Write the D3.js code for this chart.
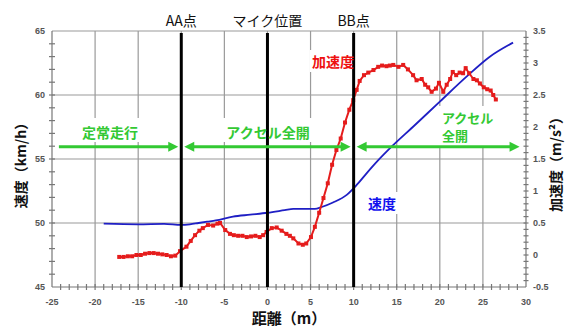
<!DOCTYPE html>
<html>
<head>
<meta charset="utf-8">
<script src="https://cdn.jsdelivr.net/npm/d3@7"></script>
<style>
  body { margin: 0; background: #fff; }
  svg { display: block; }
</style>
</head>
<body>
<div id="chart"></div>
<script>
// distance (m) vs acceleration (m/s2), red series with markers
var accDist = [-17.2, -16.7, -16.2, -15.7, -15.2, -14.7, -14.2, -13.7, -13.2, -12.7, -12.2, -11.7, -11.2, -10.7,
  -10.15, -9.4, -8.9, -8.4, -7.9, -7.5, -6.9, -6.3, -5.8, -5.5, -4.9, -4.35, -3.9, -3.4, -2.9, -2.4, -1.9, -1.4,
  -0.9, -0.5, -0.1, 0.5, 1.07, 1.65, 2.2, 2.6, 3.0, 3.6, 4.1, 4.5, 5.05, 5.5, 6.0, 6.5, 7.0, 7.5, 8.0, 8.5, 9.0,
  9.5, 9.95, 10.35, 10.7, 11.2, 11.7, 12.3, 12.85, 13.3, 13.8, 14.2, 14.6, 15.2, 15.75, 16.3, 16.9, 17.3, 17.9,
  18.3, 18.65, 19.05, 19.55, 19.9, 20.4, 20.8, 21.2, 21.5, 21.9, 22.3, 22.7, 23.0, 23.4, 23.9, 24.3, 24.65, 25.1,
  25.5, 25.9, 26.2, 26.5];
var accVal = [-0.03, -0.03, -0.02, -0.02, 0.0, 0.0, 0.02, 0.03, 0.03, 0.02, 0.01, 0.0, -0.02, -0.01,
  0.06, 0.13, 0.22, 0.31, 0.38, 0.42, 0.47, 0.46, 0.49, 0.5, 0.39, 0.33, 0.31, 0.3, 0.3, 0.28, 0.29, 0.3,
  0.28, 0.31, 0.36, 0.42, 0.43, 0.38, 0.33, 0.3, 0.26, 0.18, 0.16, 0.18, 0.28, 0.44, 0.66, 0.89, 1.12, 1.41, 1.64, 1.82, 2.07,
  2.27, 2.42, 2.58, 2.72, 2.81, 2.85, 2.89, 2.94, 2.96, 2.95, 2.96, 2.97, 2.94, 2.97, 2.9, 2.81, 2.73, 2.75,
  2.66, 2.62, 2.55, 2.6, 2.69, 2.55, 2.66, 2.75, 2.86, 2.81, 2.85, 2.84, 2.92, 2.84, 2.75, 2.73, 2.68, 2.62,
  2.59, 2.57, 2.5, 2.43];

// distance (m) vs speed (km/h), blue line
var spdDist = [-19, -15, -12, -10, -9, -8, -7, -6, -4, -2, 0, 2, 3, 4, 5.5, 6.3, 7.6, 9.2, 10.35, 11.5, 12.7, 14.4, 16.9, 20.0, 23.1, 25.8, 28.5];
var spdVal = [49.95, 49.9, 49.93, 49.85, 49.9, 50.0, 50.1, 50.2, 50.5, 50.65, 50.8, 51.0, 51.1, 51.1, 51.1, 51.25, 51.6, 52.2, 52.97, 53.88, 54.79, 55.96, 57.52, 59.48, 61.43, 62.99, 64.09];

var xTicks = [-25, -20, -15, -10, -5, 0, 5, 10, 15, 20, 25, 30];
var yLeftTicks = [45, 50, 55, 60, 65];
var yRightTicks = [-0.5, 0, 0.5, 1, 1.5, 2, 2.5, 3, 3.5];

var markerDist = [-10, 0, 10];
var markerNames = ["AA点", "マイク位置", "BB点"];

var phaseArrows = [[-24.2, -10], [-10, 10], [10, 29.6]];
var arrowLevel = 55.95;

var W = 566, H = 329;
var svg = d3.select("#chart").append("svg").attr("width", W).attr("height", H);

var x = d3.scaleLinear().domain([-25, 30]).range([52, 526]);
var yL = d3.scaleLinear().domain([45, 65]).range([287, 31]);
var yR = d3.scaleLinear().domain([-0.5, 3.5]).range([287, 31]);

var tickFont = "'Liberation Sans', Arial, sans-serif";
var jpFont = "'Noto Sans CJK JP', 'Noto Sans', sans-serif";

// grid
var grid = svg.append("g").attr("stroke", "#9a9a9a").attr("stroke-width", 1.2);
xTicks.filter(d => d > -25 && d < 30).forEach(function (d) {
  grid.append("line").attr("x1", x(d)).attr("x2", x(d)).attr("y1", yL(65)).attr("y2", yL(45));
});
yLeftTicks.filter(d => d > 45).forEach(function (d) {
  grid.append("line").attr("x1", x(-25)).attr("x2", x(30)).attr("y1", yL(d)).attr("y2", yL(d));
});

// axes lines and ticks
var ax = svg.append("g").attr("stroke", "#777").attr("stroke-width", 1.2);
ax.append("line").attr("x1", x(-25)).attr("x2", x(-25)).attr("y1", yL(65)).attr("y2", yL(45));
ax.append("line").attr("x1", x(30)).attr("x2", x(30)).attr("y1", yL(65)).attr("y2", yL(45));
ax.append("line").attr("x1", x(-25)).attr("x2", x(30)).attr("y1", yL(45)).attr("y2", yL(45));
d3.range(46, 65).forEach(function (v) {
  ax.append("line").attr("x1", x(-25) - 3).attr("x2", x(-25) + 3).attr("y1", yL(v)).attr("y2", yL(v));
});
d3.range(-24, 30).forEach(function (v) {
  ax.append("line").attr("x1", x(v)).attr("x2", x(v)).attr("y1", yL(45) - 3).attr("y2", yL(45) + 3);
});
d3.range(-4, 35).forEach(function (i) {
  var v = i / 10;
  ax.append("line").attr("x1", x(30) - 2.5).attr("x2", x(30) + 2.5).attr("y1", yR(v)).attr("y2", yR(v));
});

// tick labels
var lab = svg.append("g").attr("font-family", tickFont).attr("font-weight", "bold")
  .attr("font-size", 9).attr("fill", "#555");
yLeftTicks.forEach(function (d) {
  lab.append("text").attr("x", 45).attr("y", yL(d) + 3).attr("text-anchor", "end").text(d);
});
yRightTicks.forEach(function (d) {
  lab.append("text").attr("x", 533).attr("y", yR(d) + 3).attr("text-anchor", "start").text(d);
});
xTicks.forEach(function (d) {
  lab.append("text").attr("x", x(d)).attr("y", 305).attr("text-anchor", "middle").text(d);
});

// label backgrounds (cover grid)
function labelBox(x0, y0, w, h) {
  svg.append("rect").attr("x", x0).attr("y", y0).attr("width", w).attr("height", h).attr("fill", "#fff");
}
labelBox(76, 118, 70, 24);
labelBox(220, 118, 96, 24);
labelBox(438, 106, 60, 40);
labelBox(310, 50, 46, 22);
labelBox(364, 192, 36, 22);

// speed line
svg.append("path")
  .datum(d3.zip(spdDist, spdVal))
  .attr("fill", "none").attr("stroke", "#1f1fc4").attr("stroke-width", 1.8)
  .attr("d", d3.line().curve(d3.curveMonotoneX).x(d => x(d[0])).y(d => yL(d[1])));

// acceleration line with markers
var acc = d3.zip(accDist, accVal);
svg.append("path")
  .datum(acc)
  .attr("fill", "none").attr("stroke", "#e51c1c").attr("stroke-width", 2)
  .attr("d", d3.line().x(d => x(d[0])).y(d => yR(d[1])));
svg.append("g").selectAll("rect").data(acc).enter().append("rect")
  .attr("x", d => x(d[0]) - 2).attr("y", d => yR(d[1]) - 2)
  .attr("width", 4).attr("height", 4).attr("fill", "#e51c1c");

// reference vertical lines
markerDist.forEach(function (d, i) {
  svg.append("line").attr("x1", x(d)).attr("x2", x(d)).attr("y1", yL(65) + 2).attr("y2", yL(45))
    .attr("stroke", "#000").attr("stroke-width", 3);
  svg.append("text").attr("x", x(d)).attr("y", 26).attr("text-anchor", "middle")
    .attr("font-family", jpFont).attr("font-size", 14).attr("fill", "#111").text(markerNames[i]);
});

// phase arrows
var green = "#33c933";
var ay = yL(arrowLevel);
function head(px, dir) {
  svg.append("path")
    .attr("d", "M" + px + "," + ay + "L" + (px - dir * 10) + "," + (ay - 5) + "L" + (px - dir * 10) + "," + (ay + 5) + "Z")
    .attr("fill", green);
}
phaseArrows.forEach(function (a, i) {
  var x0 = x(a[0]) + (i > 0 ? 3 : 0), x1 = x(a[1]) - 3;
  svg.append("line").attr("x1", x0 + (i > 0 ? 6 : 0)).attr("x2", x1 - 6).attr("y1", ay).attr("y2", ay)
    .attr("stroke", green).attr("stroke-width", 3);
  head(x1, 1);
  if (i > 0) head(x0, -1);
});

// annotations
function note(tx, ty, str, color, anchor, size) {
  svg.append("text").attr("x", tx).attr("y", ty).attr("text-anchor", anchor || "middle")
    .attr("font-family", jpFont).attr("font-weight", "bold").attr("font-size", size || 14)
    .attr("fill", color).text(str);
}
note(110, 138, "定常走行", green);
note(268, 138, "アクセル全開", green);
note(442, 123, "アクセル", green, "start", 13);
note(442, 141, "全開", green, "start", 13);
note(333, 67, "加速度", "#ee1111");
note(382, 209, "速度", "#1111ee");

// axis titles
svg.append("text").attr("transform", "translate(26,162) rotate(-90)").attr("text-anchor", "middle")
  .attr("font-family", jpFont).attr("font-weight", "bold").attr("font-size", 14).attr("fill", "#111")
  .text("速度（km/h）");
svg.append("text").attr("transform", "translate(561,161) rotate(-90)").attr("text-anchor", "middle")
  .attr("font-family", jpFont).attr("font-weight", "bold").attr("font-size", 14).attr("fill", "#111")
  .text("加速度（m/s²）");
svg.append("text").attr("x", 289).attr("y", 324).attr("text-anchor", "middle")
  .attr("font-family", jpFont).attr("font-weight", "bold").attr("font-size", 15).attr("fill", "#111")
  .text("距離（m）");
</script>
</body>
</html>
